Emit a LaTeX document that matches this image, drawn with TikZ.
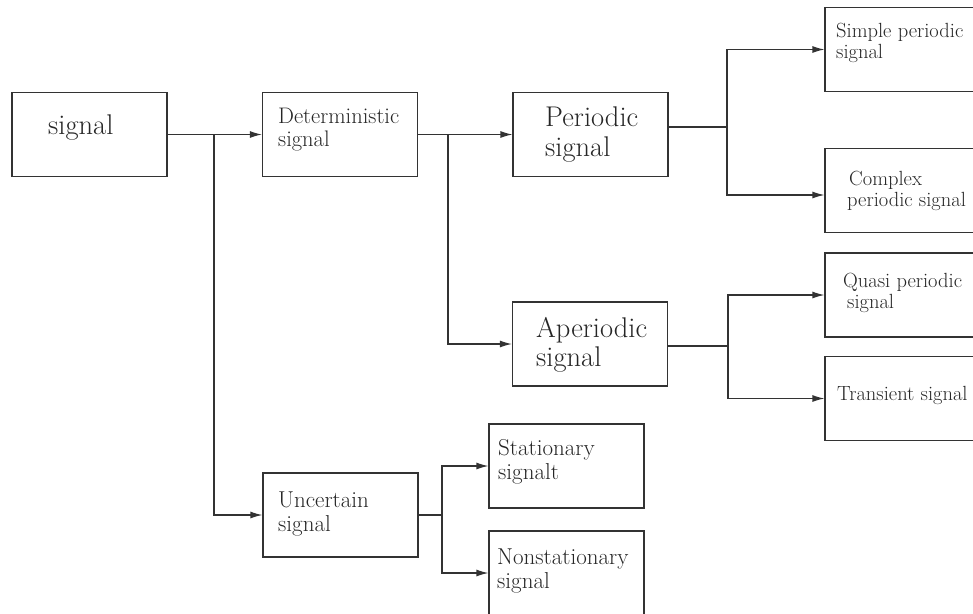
\documentclass[tikz,border=0pt]{standalone}
\usetikzlibrary{arrows.meta,positioning}

\begin{document}
\begin{tikzpicture}[x=1pt,y=-1pt,
  blk/.style={draw=black!80, line width=1.2pt, minimum width=155pt, minimum height=84pt, inner sep=0pt},
  lbl/.style={anchor=west, align=left, inner sep=0pt, text=black!85},
  txtbig/.style={lbl, font=\fontsize{28.5}{29.5}\selectfont},
  txtmid/.style={lbl, font=\fontsize{23}{24}\selectfont},
  txtsml/.style={lbl, font=\fontsize{20.5}{21.5}\selectfont},
  wire/.style={draw=black!80, line width=1.2pt},
  arr/.style={wire, -{Latex[length=12pt,width=7pt]}}]

\useasboundingbox (0,0) rectangle (973,613);
\clip (0,0) rectangle (973,613);

% boxes
\node[blk] (sig) at (89.5,134.5) {};
\node[blk] (det) at (340,134.5) {};
\node[blk] (per) at (590.5,134.5) {};
\node[blk] (aper) at (590,344) {};
\node[blk] (unc) at (340.5,515) {};
\node[blk] (stat) at (566.5,466) {};
\node[blk] (nonstat) at (566.5,573) {};
\node[blk] (simp) at (902.5,49.5) {};
\node[blk] (comp) at (902.5,190.5) {};
\node[blk] (quasi) at (902.5,295) {};
\node[blk] (trans) at (902.5,398.5) {};

% texts
\node[txtbig] (sig-t) at (48,128) {signal};
\node[txtmid, font=\fontsize{22.5}{23}\selectfont] (det-t) at (278,129.5) {Deterministic\\signal};
\node[txtbig] (per-t) at (545,134.5) {Periodic\\signal};
\node[txtbig] (aper-t) at (536,345) {Aperiodic\\signal};
\node[txtmid] (unc-t) at (278,514) {Uncertain\\signal};
\node[txtmid] (stat-t) at (498,461.5) {Stationary\\signalt};
\node[txtmid] (nonstat-t) at (497,571) {Nonstationary\\signal};
\node[txtsml] (simp-t) at (836,43) {Simple periodic\\signal};
\node[txtsml] (comp-t) at (847,191) {\hspace*{2pt}Complex\\periodic signal};
\node[txtsml] (quasi-t) at (843,293) {Quasi periodic\\\hspace*{4pt}signal};
\node[txtsml] (trans-t) at (837,395) {Transient signal};

% junctions
\coordinate (j1) at (214,134.5);
\coordinate (j2) at (448,134.5);
\coordinate (j3) at (727,127);
\coordinate (j4) at (728,346);
\coordinate (j5) at (442,515);

% connectors
\draw[arr] (sig.east) -- (det.west);
\draw[arr] (j1) |- (unc.west);
\draw[arr] (det.east) -- (per.west);
\draw[arr] (j2) |- (aper.west);
\draw[wire] ([yshift=7.5pt]per.east) -- (j3);
\draw[arr] (j3) |- (simp.west);
\draw[arr] (j3) |- ([yshift=-4.5pt]comp.west);
\draw[wire] ([yshift=-2pt]aper.east) -- (j4);
\draw[arr] (j4) |- (quasi.west);
\draw[arr] (j4) |- (trans.west);
\draw[wire] (unc.east) -- (j5);
\draw[arr] (j5) |- (stat.west);
\draw[arr] (j5) |- (nonstat.west);

\end{tikzpicture}
\end{document}
